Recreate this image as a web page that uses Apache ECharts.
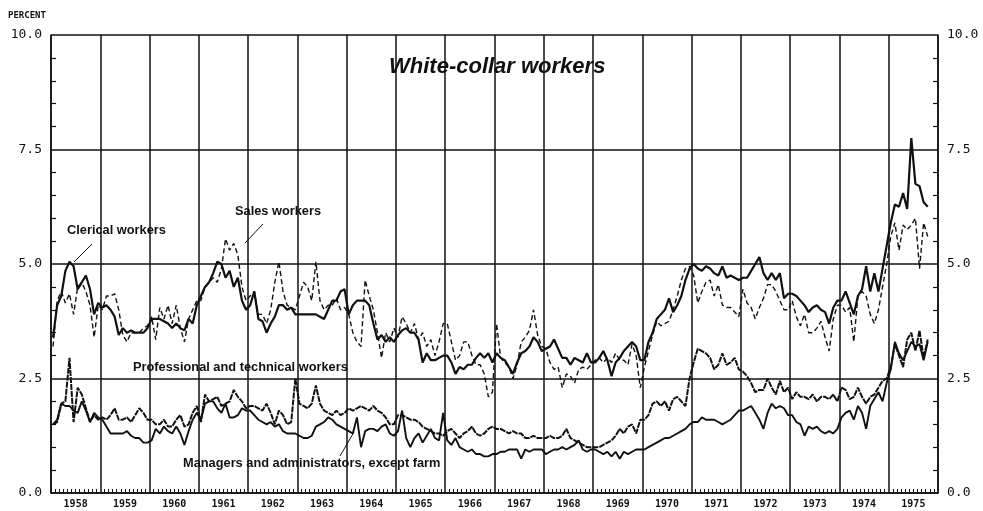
<!DOCTYPE html>
<html>
<head>
<meta charset="utf-8">
<script src="https://cdn.jsdelivr.net/npm/echarts@6/dist/echarts.min.js"></script>
<style>
  html, body { margin: 0; padding: 0; background: #fff; }
  #chart { width: 983px; height: 511px; }
</style>
</head>
<body>
<div id="chart"></div>
<script>
  // monthly values, Jan 1958 .. Oct 1975 (percent)
  var years = ["1958", "1959", "1960", "1961", "1962", "1963", "1964", "1965", "1966",
    "1967", "1968", "1969", "1970", "1971", "1972", "1973", "1974", "1975"];
  var yTicks = [0, 2.5, 5, 7.5, 10];

  var clerical = [
    3.4, 4.1, 4.3, 4.85, 5.05, 4.95, 4.45, 4.6, 4.75, 4.45, 3.9, 4.15,
    4.05, 4.1, 4.0, 3.85, 3.45, 3.6, 3.5, 3.55, 3.5, 3.5, 3.5, 3.6,
    3.8, 3.8, 3.8, 3.75, 3.7, 3.6, 3.7, 3.6, 3.55, 3.8, 3.7, 4.1,
    4.3, 4.5, 4.6, 4.8, 5.05, 5.0, 4.7, 4.85, 4.5, 4.7, 4.2, 4.0,
    4.1, 4.4, 3.8, 3.75, 3.5, 3.7, 3.85, 4.1, 4.1, 4.0, 4.05, 3.9,
    3.9, 3.9, 3.9, 3.9, 3.9, 3.85, 3.8, 4.0, 4.2, 4.2, 4.4, 4.45,
    3.9, 4.1, 4.2, 4.2, 4.2, 4.1, 3.7, 3.35, 3.45, 3.3, 3.4, 3.3,
    3.45, 3.55, 3.6, 3.5, 3.5, 3.35, 2.85, 3.05, 2.9, 2.9, 2.95, 3.0,
    3.0, 2.85, 2.6, 2.75, 2.7, 2.8, 2.8, 2.95, 3.05, 2.95, 3.05, 2.85,
    3.05, 2.95, 2.9, 2.75, 2.6, 2.85, 3.05, 3.1, 3.2, 3.4, 3.3, 3.1,
    3.15, 3.2, 3.35, 3.15, 2.95, 2.95, 2.8, 2.95, 2.9, 2.85, 3.05, 2.85,
    2.85, 2.95, 3.1, 2.9, 2.55, 2.85, 2.95, 3.1, 3.2, 3.3, 3.2, 2.9,
    2.9, 3.3, 3.5, 3.8, 3.9, 4.0, 4.25, 3.95, 4.1, 4.3, 4.65, 4.9,
    5.0, 4.9, 4.85, 4.95, 4.9, 4.8, 4.75, 4.95, 4.7, 4.75, 4.7, 4.65,
    4.7, 4.7, 4.85, 5.0, 5.15, 4.8, 4.65, 4.8, 4.65, 4.8, 4.25, 4.35,
    4.35, 4.3, 4.2, 4.1, 3.95, 4.05, 4.1, 4.0, 3.95, 3.7, 4.05, 4.2,
    4.2, 4.4, 4.15, 3.9, 4.3, 4.45, 4.95, 4.4, 4.8, 4.4, 4.9, 5.4,
    5.9, 6.3, 6.25, 6.55, 6.2, 7.75, 6.75, 6.7, 6.35, 6.25
  ];

  var sales = [
    3.2, 4.2, 4.4, 4.15, 4.35, 3.9, 4.5, 4.6, 4.4, 4.1, 3.4, 4.1,
    4.0, 4.3, 4.3, 4.35, 4.0, 3.45, 3.3, 3.5, 3.5, 3.5, 3.6, 3.65,
    3.85, 3.35, 4.05, 3.8, 4.1, 3.7, 4.1, 3.6, 3.3, 3.8, 4.0, 4.2,
    4.2, 4.5, 4.6, 4.7, 4.6, 4.9, 5.55, 5.3, 5.45, 5.2, 4.5, 4.2,
    4.3, 4.4, 3.9, 3.9, 3.7, 4.0, 4.6, 5.05, 4.4, 4.1, 4.05, 4.0,
    4.3, 4.6, 4.5, 4.2, 5.05, 4.2, 4.0, 4.1, 4.1, 4.25, 4.0, 4.05,
    3.9, 3.5, 3.3, 3.2, 4.65, 4.3, 4.0, 3.5, 2.95, 3.5, 3.3, 3.6,
    3.4, 3.85, 3.7, 3.5, 3.7, 3.35, 3.5, 3.2, 3.35, 3.0, 3.3, 3.7,
    3.7, 3.3, 2.9, 3.0, 3.3, 3.3, 3.0, 2.8, 2.8, 2.6, 2.1, 2.2,
    3.7, 2.95, 2.85, 2.75, 2.5, 2.8, 3.3, 3.4, 3.55, 4.0, 3.45, 3.2,
    3.15, 2.85, 2.7, 2.75, 2.3, 2.6, 2.55, 2.4, 2.7, 2.75, 2.7, 2.8,
    2.9, 2.95, 2.85, 2.95, 2.85, 3.05, 2.9, 2.9, 2.8, 3.25, 3.0, 2.3,
    2.75, 3.1, 3.45, 3.75, 3.65, 3.7, 3.75, 4.0, 4.3, 4.65, 4.9, 4.95,
    4.75, 4.15, 4.4, 4.6, 4.65, 4.3, 4.55, 4.1, 4.05, 4.05, 3.95, 3.85,
    4.45, 4.15, 4.05, 3.8, 4.05, 4.25, 4.55, 4.55, 4.4, 4.2, 4.0, 4.0,
    4.2, 3.85, 3.65, 3.9, 3.5, 3.5, 3.6, 3.75, 3.4, 3.1, 3.8, 4.1,
    4.1, 3.95, 4.05, 3.3, 4.3, 4.4, 4.3, 3.9, 3.7, 4.0, 4.5, 5.0,
    5.6, 5.9, 5.3, 5.85, 5.75, 5.85, 6.0, 4.9, 5.9, 5.6
  ];

  var professional = [
    1.5, 1.55, 1.95, 2.0, 2.95, 1.55, 2.3, 2.15, 1.85, 1.55, 1.7, 1.6,
    1.65, 1.6, 1.7, 1.85, 1.6, 1.6, 1.65, 1.55, 1.7, 1.85, 1.75, 1.6,
    1.6, 1.5, 1.5, 1.6, 1.45, 1.45, 1.6, 1.7, 1.45, 1.5, 1.75, 1.9,
    1.55, 2.15, 2.0, 2.05, 2.1, 1.9, 1.95, 2.0, 2.25, 2.1, 2.0, 1.85,
    1.9, 1.9, 1.85, 1.8, 1.95, 1.75, 1.5, 1.8, 1.7, 1.5, 1.55, 2.5,
    1.95, 1.9, 1.85, 1.95, 2.35, 1.95, 1.8, 1.75, 1.7, 1.8, 1.7, 1.75,
    1.85, 1.8, 1.85, 1.9, 1.85, 1.8, 1.9, 1.8, 1.75, 1.65, 1.5, 1.5,
    1.7, 1.7, 1.65, 1.6, 1.6, 1.55, 1.45, 1.4, 1.35, 1.3, 1.3, 1.25,
    1.35, 1.4, 1.3, 1.2, 1.3, 1.35, 1.45, 1.3, 1.25, 1.3, 1.4, 1.45,
    1.4, 1.4, 1.35, 1.3, 1.35, 1.3, 1.3, 1.2, 1.2, 1.25, 1.2, 1.2,
    1.2, 1.25, 1.2, 1.2, 1.25, 1.4, 1.2, 1.15, 1.1, 1.05, 1.0, 1.0,
    1.0, 1.0, 1.05, 1.1, 1.15, 1.25, 1.4, 1.3, 1.45, 1.5, 1.3, 1.6,
    1.6, 1.7, 1.95, 2.0, 1.9, 2.0, 1.8, 2.05, 2.1, 2.0, 1.9, 2.5,
    2.85, 3.15, 3.1, 3.05, 2.95, 2.7, 2.8, 3.05, 2.8, 2.85, 2.95, 2.7,
    2.65, 2.55, 2.4, 2.2, 2.25, 2.25, 2.5, 2.3, 2.15, 2.45, 2.2, 2.3,
    2.05, 2.2, 2.1, 2.1, 2.05, 2.15, 2.0, 2.1, 2.1, 2.05, 2.15, 2.0,
    2.3, 2.25, 2.05, 2.1, 2.3, 2.1, 1.95, 2.1, 2.15, 2.3, 2.45, 2.5,
    2.75, 3.25, 3.0, 2.75, 3.35, 3.5, 3.1, 3.55, 2.95, 3.35
  ];

  var managers = [
    1.5, 1.6, 1.95, 1.9, 1.9, 1.8, 1.75, 2.0, 1.8, 1.55, 1.75, 1.65,
    1.6, 1.45, 1.3, 1.3, 1.3, 1.3, 1.35, 1.25, 1.2, 1.2, 1.1, 1.1,
    1.15, 1.4, 1.3, 1.45, 1.35, 1.3, 1.45, 1.3, 1.05, 1.35, 1.6, 1.75,
    1.6, 1.95, 2.0, 2.0, 1.85, 1.75, 1.95, 1.65, 1.65, 1.7, 1.85, 1.8,
    1.8, 1.7, 1.6, 1.55, 1.5, 1.55, 1.45, 1.5, 1.35, 1.3, 1.3, 1.3,
    1.25, 1.2, 1.2, 1.25, 1.45, 1.5, 1.55, 1.65, 1.6, 1.5, 1.45, 1.4,
    1.35, 1.3, 1.65, 1.0, 1.35, 1.4, 1.4, 1.35, 1.45, 1.5, 1.3, 1.25,
    1.35, 1.8, 1.2, 1.0, 1.2, 1.3, 1.1, 1.25, 1.4, 1.2, 1.15, 1.75,
    1.15, 1.05, 1.2, 1.0, 0.95, 0.9, 0.95, 0.85, 0.85, 0.8, 0.8, 0.85,
    0.85, 0.9, 0.9, 0.95, 0.95, 0.95, 0.75, 0.95, 0.9, 0.95, 0.95, 0.95,
    0.85, 0.9, 0.95, 0.95, 1.0, 0.95, 1.0, 1.05, 1.15, 0.95, 0.9, 0.95,
    0.95, 0.9, 0.85, 0.9, 0.8, 0.9, 0.75, 0.9, 0.85, 0.9, 0.95, 0.95,
    0.95, 1.0, 1.05, 1.1, 1.15, 1.2, 1.2, 1.25, 1.3, 1.35, 1.4, 1.5,
    1.55, 1.55, 1.65, 1.6, 1.6, 1.6, 1.55, 1.5, 1.55, 1.6, 1.7, 1.8,
    1.8, 1.85, 1.9, 1.75, 1.6, 1.4, 1.75, 1.95, 1.85, 1.9, 1.85, 1.7,
    1.7, 1.55, 1.5, 1.25, 1.45, 1.4, 1.45, 1.35, 1.3, 1.35, 1.3, 1.4,
    1.65, 1.75, 1.8, 1.6, 1.9, 1.75, 1.4, 1.9, 2.05, 2.2, 2.0, 2.4,
    2.7, 3.3, 3.05, 2.9, 3.1, 3.3, 3.2, 3.25, 2.9, 3.3
  ];

  function monthly(arr) {
    return arr.map(function(v, i) { return [i + 0.5, v]; });
  }

  var chart = echarts.init(document.getElementById("chart"));
  var ink = "#111";
  var labelFont = "DejaVu Sans Mono";
  var noteFont = "Liberation Sans";

  function yAxis(pos) {
    return {
      type: "value",
      position: pos,
      min: yTicks[0],
      max: yTicks[yTicks.length - 1],
      interval: 2.5,
      axisLine: { show: true, lineStyle: { color: ink, width: 1.5 } },
      axisTick: { show: false },
      minorTick: { show: true, splitNumber: 5, length: -5, lineStyle: { color: ink, width: 1.2 } },
      axisLabel: {
        color: ink,
        fontFamily: labelFont,
        fontSize: 13,
        margin: 9,
        formatter: function(v) { return v.toFixed(1); }
      },
      splitLine: { show: pos === "left", lineStyle: { color: ink, width: 1.5 } }
    };
  }

  function note(text, x, y) {
    return { type: "text", left: x, top: y, style: { text: text, fontFamily: noteFont, fontSize: 12.8, fontWeight: "bold", fill: ink } };
  }

  function leader(x1, y1, x2, y2) {
    return { type: "line", shape: { x1: x1, y1: y1, x2: x2, y2: y2 }, style: { stroke: ink, lineWidth: 1 } };
  }

  chart.setOption({
    animation: false,
    backgroundColor: "#fff",
    grid: { left: 51, right: 45, top: 35, bottom: 18 },
    title: {
      text: "White-collar workers",
      left: 384,
      top: 51,
      textStyle: { fontFamily: noteFont, fontSize: 22, fontWeight: "bold", fontStyle: "italic", color: ink }
    },
    xAxis: [
      {
        type: "value",
        min: 0,
        max: 216,
        interval: 12,
        axisLine: { show: true, lineStyle: { color: ink, width: 1.5 } },
        axisTick: { show: false },
        minorTick: { show: true, splitNumber: 12, length: -4, lineStyle: { color: ink, width: 1 } },
        axisLabel: { show: false },
        splitLine: { show: true, lineStyle: { color: ink, width: 1.5 } }
      },
      {
        type: "category",
        position: "bottom",
        data: years,
        boundaryGap: true,
        axisLine: { show: false },
        axisTick: { show: false },
        axisLabel: { color: ink, fontFamily: labelFont, fontSize: 10, fontWeight: "bold", margin: 6 },
        splitLine: { show: false }
      }
    ],
    yAxis: [yAxis("left"), yAxis("right")],
    series: [
      {
        name: "Clerical workers",
        type: "line",
        data: monthly(clerical),
        showSymbol: false,
        lineStyle: { color: ink, width: 2.2 }
      },
      {
        name: "Sales workers",
        type: "line",
        data: monthly(sales),
        showSymbol: false,
        lineStyle: { color: ink, width: 1.4, type: [5, 3] }
      },
      {
        name: "Professional and technical workers",
        type: "line",
        data: monthly(professional),
        showSymbol: false,
        lineStyle: { color: ink, width: 2, type: [6, 1] }
      },
      {
        name: "Managers and administrators, except farm",
        type: "line",
        data: monthly(managers),
        showSymbol: false,
        lineStyle: { color: ink, width: 1.9 }
      }
    ],
    graphic: [
      { type: "text", left: 8, top: 11, style: { text: "PERCENT", fontFamily: labelFont, fontSize: 9, fontWeight: "bold", fill: ink } },
      note("Clerical workers", 67, 224),
      leader(92, 244, 74, 262),
      note("Sales workers", 235, 205),
      leader(263, 224, 245, 243),
      note("Professional and technical workers", 133, 361),
      note("Managers and administrators, except farm", 183, 457),
      leader(340, 456, 354, 432)
    ]
  });
</script>
</body>
</html>
